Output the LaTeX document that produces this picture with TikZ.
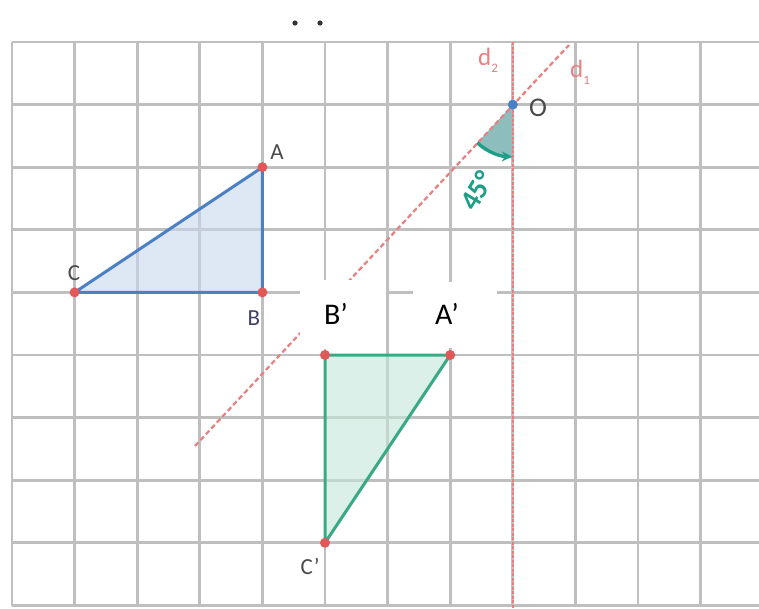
\documentclass[tikz,border=0pt]{standalone}
\usepackage{fontspec}
\setmainfont{Carlito}
\usetikzlibrary{arrows.meta,calc}
\definecolor{gridc}{HTML}{BFBFBF}
\definecolor{bluel}{HTML}{4A80C4}
\definecolor{bluef}{HTML}{C9D7EE}
\definecolor{greenl}{HTML}{3AAA86}
\definecolor{greenf}{HTML}{C4E6D9}
\definecolor{ptred}{HTML}{E05858}
\definecolor{dred}{HTML}{E88080}
\definecolor{tealc}{HTML}{1E9E86}
\definecolor{wedgec}{HTML}{8DBDBD}
\definecolor{labc}{HTML}{4A4A4A}
\tikzset{
  gridline/.style={draw=gridc, line width=2.8pt},
  tri1/.style={draw=bluel, line width=3pt, line join=round},
  tri2/.style={draw=greenl, line width=3pt, line join=round},
  dline/.style={draw=dred, line width=2.2pt, dash pattern=on 5pt off 3pt},
  dline2/.style={draw=dred, line width=2.4pt, dash pattern=on 3pt off 1.5pt},
  ptdot/.style={circle, fill=ptred, inner sep=0pt, minimum size=10pt},
  odot/.style={circle, fill=bluel, inner sep=0pt, minimum size=10pt},
  ptlab/.style={text=labc, font=\fontsize{23}{23}\selectfont, inner sep=0pt},
  biglab/.style={text=black, font=\fontsize{30}{30}\selectfont, inner sep=0pt},
  dlab/.style={text=dred, font=\fontsize{25}{25}\selectfont, inner sep=0pt},
}
\begin{document}
\begin{tikzpicture}[x=1pt,y=-1pt]
\useasboundingbox (0,0) rectangle (759,608);
\fill[white] (0,0) rectangle (759,608);
% grid
\foreach \i in {0,...,11} \draw[gridline] ({12+62.6*\i},42) -- ({12+62.6*\i},606);
\foreach \j in {0,...,9} \draw[gridline] (12,{42+62.6*\j}) -- (759,{42+62.6*\j});
% top remnant dots
\fill[black!80] (295,23) circle (2.6);
\fill[black!80] (320,23) circle (2.6);
% points
\coordinate (A) at (262.4,167.2);
\coordinate (B) at (262.4,292.4);
\coordinate (C) at (74.6,292.4);
\coordinate (A') at (450.2,355);
\coordinate (B') at (325,355);
\coordinate (C') at (325,542.8);
\coordinate (O) at (512.8,104.6);
\coordinate (d1a) at (195,446);
\coordinate (d1b) at (569,45);
\coordinate (d2a) at (512.8,42);
\coordinate (d2b) at (512.8,608);
% fills
\fill[bluef, opacity=0.6] (A) -- (B) -- (C) -- cycle;
\fill[greenf, opacity=0.6] (A') -- (B') -- (C') -- cycle;
% angle wedge
\fill[wedgec] (O) -- ++(133:54) arc[start angle=133, end angle=90, radius=54] -- cycle;
% lines d1 d2
\draw[dline] (d1a) -- (d1b);
\draw[dline2] (d2a) -- (d2b);
% triangles
\draw[tri1] (A) -- (B) -- (C) -- cycle;
\draw[tri2] (A') -- (B') -- (C') -- cycle;
% angle arrow
\draw[tealc, line width=3.2pt, -{Stealth[length=10pt,width=10pt]}] ($(O)+(133:52)$) arc[start angle=133, end angle=91, radius=52];
% dots
\node[ptdot] (pA) at (A) {};
\node[ptdot] (pB) at (B) {};
\node[ptdot] (pC) at (C) {};
\node[ptdot] (pA') at (A') {};
\node[ptdot] (pB') at (B') {};
\node[ptdot] (pC') at (C') {};
\node[odot] (pO) at (O) {};
% white label boxes
\fill[white] (300,280) rectangle (386,349);
\fill[white] (413,282) rectangle (497,348);
% labels
\node[ptlab] (lA) at (277,152) {A};
\node[ptlab] (lC) at (74,273) {C};
\node[ptlab, text=labc!85!blue] (lB) at (254,318) {B};
\node[ptlab] (lC') at (310,566) {C’};
\node[ptlab, font=\fontsize{27}{27}\selectfont] (lO) at (538,108) {O};
\node[biglab] (lB') at (336,314) {B’};
\node[biglab] (lA') at (447,314) {A’};
\node[dlab] (ld2) at (488,60) {d\raisebox{-7pt}{\fontsize{13}{13}\selectfont 2}};
\node[dlab] (ld1) at (580,72) {d\raisebox{-7pt}{\fontsize{13}{13}\selectfont 1}};
\node[text=tealc, font=\bfseries\fontsize{29}{29}\selectfont, inner sep=0pt, rotate=59] (l45) at (477,191) {45°};
\end{tikzpicture}
\end{document}
